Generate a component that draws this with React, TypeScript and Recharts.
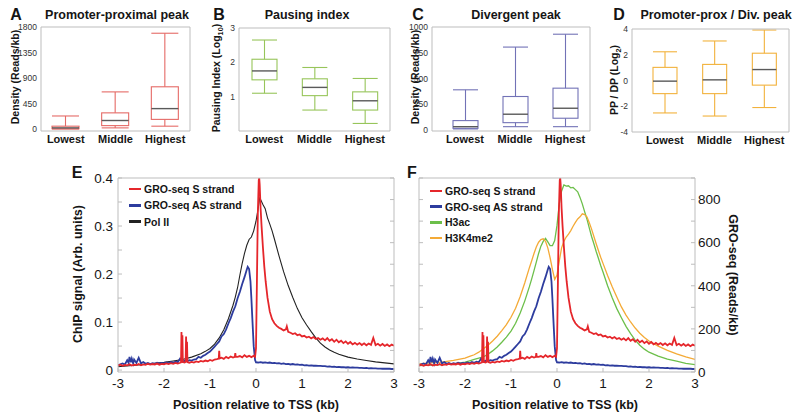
import React from 'react';
import { BarChart, Bar, XAxis, YAxis, LineChart, Line } from 'recharts';

// ---------- Top row: box plots ----------
const GROUPS = ['Lowest', 'Middle', 'Highest'];
// each box: [lower whisker, Q1, median, Q3, upper whisker]
const PROX_PEAK_BOXES = [
  [0, 5, 20, 50, 230],
  [20, 60, 150, 285, 655],
  [50, 170, 360, 745, 1690],
];
const PAUSING_BOXES = [
  [1.1, 1.49, 1.75, 2.09, 2.65],
  [0.61, 1.03, 1.27, 1.52, 1.85],
  [0.22, 0.61, 0.88, 1.14, 1.53],
];
const DIVERGENT_BOXES = [
  [10, 16, 32, 91, 390],
  [32, 71, 153, 325, 805],
  [32, 114, 211, 406, 930],
];
const RATIO_BOXES = [
  [-2.52, -1.02, -0.05, 1.02, 2.23],
  [-2.76, -1.02, 0.05, 1.25, 3.07],
  [-2.1, -0.36, 0.85, 2.12, 3.92],
];
const PROX_TICKS = [0, 450, 900, 1350, 1800];
const PAUSING_TICKS = [1, 2, 3];
const DIVERGENT_TICKS = [0, 250, 500, 750, 1000];
const RATIO_TICKS = [-4, -2, 0, 2, 4];

// ---------- Bottom row: profiles around TSS ----------
const KB_TICKS = [-3, -2, -1, 0, 1, 2, 3];
const CHIP_TICKS = [0, 0.05, 0.1, 0.15, 0.2, 0.25, 0.3, 0.35, 0.4];
const READS_TICKS = [0, 100, 200, 300, 400, 500, 600, 700, 800, 900];
const HISTONE_TICKS = [0, 0.05, 0.1, 0.15, 0.2, 0.25, 0.3, 0.35, 0.4, 0.45];

// GRO-seq sense strand (reads/kb)
const S_KB = [-3, -2.95, -2.9, -2.85, -2.8, -2.75, -2.7, -2.65, -2.6, -2.55,
  -2.5, -2.45, -2.4, -2.35, -2.3, -2.25, -2.2, -2.15, -2.1, -2.05,
  -2, -1.95, -1.9, -1.85, -1.8, -1.75, -1.7, -1.65, -1.63, -1.62,
  -1.61, -1.6, -1.59, -1.55, -1.53, -1.52, -1.51, -1.5, -1.49, -1.45,
  -1.4, -1.35, -1.3, -1.25, -1.2, -1.15, -1.1, -1.05, -1, -0.95,
  -0.9, -0.85, -0.81, -0.8, -0.79, -0.75, -0.7, -0.65, -0.6, -0.55,
  -0.5, -0.46, -0.45, -0.44, -0.4, -0.35, -0.3, -0.25, -0.2, -0.15,
  -0.1, -0.05, -0.02, 0, 0.02, 0.04, 0.06, 0.07, 0.08, 0.1,
  0.12, 0.15, 0.18, 0.21, 0.25, 0.3, 0.35, 0.4, 0.45, 0.5,
  0.55, 0.6, 0.65, 0.67, 0.7, 0.75, 0.8, 0.85, 0.9, 0.95,
  1, 1.05, 1.1, 1.15, 1.2, 1.25, 1.3, 1.35, 1.4, 1.45,
  1.5, 1.55, 1.6, 1.65, 1.7, 1.75, 1.8, 1.85, 1.9, 1.95,
  2, 2.05, 2.1, 2.15, 2.2, 2.25, 2.3, 2.35, 2.4, 2.45,
  2.5, 2.55, 2.6, 2.65, 2.7, 2.75, 2.8, 2.85, 2.9, 2.95,
  3];
const S_READS = [30, 34, 29, 33, 31, 36, 30, 34, 32, 37,
  31, 35, 33, 38, 34, 37, 35, 39, 34, 38,
  36, 40, 37, 41, 38, 42, 39, 43, 45, 185,
  52, 170, 46, 44, 47, 165, 50, 140, 46, 43,
  47, 44, 49, 46, 51, 48, 53, 50, 56, 52,
  58, 60, 62, 98, 63, 66, 61, 70, 64, 72,
  67, 70, 88, 71, 70, 74, 68, 78, 70, 75,
  69, 75, 70, 110, 420, 740, 890, 900, 870, 760,
  680, 580, 490, 420, 345, 280, 245, 226, 214, 205,
  200, 193, 198, 212, 186, 182, 176, 180, 171, 174,
  165, 168, 160, 164, 156, 162, 153, 158, 150, 156,
  147, 157, 145, 152, 140, 150, 138, 145, 134, 142,
  131, 139, 128, 135, 127, 134, 125, 133, 124, 132,
  126, 158, 125, 131, 122, 130, 121, 128, 120, 127,
  122];

// GRO-seq antisense strand (reads/kb)
const AS_KB = [-3, -2.95, -2.9, -2.85, -2.8, -2.77, -2.75, -2.72, -2.7, -2.67,
  -2.65, -2.6, -2.55, -2.5, -2.45, -2.4, -2.35, -2.3, -2.25, -2.2,
  -2.15, -2.1, -2.05, -2, -1.95, -1.9, -1.85, -1.8, -1.75, -1.7,
  -1.65, -1.6, -1.55, -1.5, -1.45, -1.4, -1.35, -1.3, -1.25, -1.2,
  -1.15, -1.1, -1.05, -1, -0.95, -0.9, -0.85, -0.8, -0.75, -0.7,
  -0.65, -0.6, -0.55, -0.5, -0.45, -0.4, -0.35, -0.3, -0.25, -0.2,
  -0.18, -0.15, -0.12, -0.1, -0.08, -0.05, -0.02, 0, 0.05, 0.1,
  0.15, 0.2, 0.25, 0.3, 0.35, 0.4, 0.45, 0.5, 0.55, 0.6,
  0.65, 0.7, 0.75, 0.8, 0.85, 0.9, 0.95, 1, 1.05, 1.1,
  1.15, 1.2, 1.25, 1.3, 1.35, 1.4, 1.45, 1.5, 1.55, 1.6,
  1.65, 1.7, 1.75, 1.8, 1.85, 1.9, 1.95, 2, 2.05, 2.1,
  2.15, 2.2, 2.25, 2.3, 2.35, 2.4, 2.45, 2.5, 2.55, 2.6,
  2.65, 2.7, 2.75, 2.8, 2.85, 2.9, 2.95, 3];
const AS_READS = [32, 36, 40, 35, 55, 42, 70, 45, 62, 40,
  58, 42, 66, 40, 46, 38, 42, 37, 41, 38,
  43, 39, 42, 40, 44, 41, 47, 43, 48, 45,
  62, 48, 52, 50, 55, 53, 58, 60, 70, 66,
  75, 80, 88, 95, 106, 118, 130, 142, 165, 176,
  198, 225, 250, 280, 305, 342, 372, 408, 440, 475,
  488, 478, 420, 340, 250, 120, 55, 45, 44, 46,
  43, 45, 42, 44, 41, 42, 40, 41, 38, 40,
  37, 38, 35, 37, 34, 35, 33, 34, 31, 32,
  30, 31, 29, 30, 28, 28, 27, 27, 25, 26,
  24, 25, 23, 24, 22, 23, 21, 22, 20, 21,
  20, 20, 19, 19, 18, 19, 17, 18, 17, 17,
  16, 16, 15, 16, 15, 15, 14, 14];

// Pol II ChIP signal (arb. units)
const POL_KB = [-3, -2.5, -2, -1.8, -1.6, -1.4, -1.2, -1.1, -1, -0.9,
  -0.8, -0.7, -0.6, -0.5, -0.45, -0.4, -0.35, -0.3, -0.25, -0.2,
  -0.15, -0.1, -0.05, 0, 0.05, 0.08, 0.1, 0.15, 0.2, 0.25,
  0.3, 0.35, 0.4, 0.5, 0.6, 0.7, 0.8, 0.9, 1, 1.1,
  1.2, 1.3, 1.4, 1.5, 1.6, 1.7, 1.8, 2, 2.2, 2.4,
  2.6, 2.8, 3];
const POL_SIGNAL = [0.007, 0.011, 0.016, 0.019, 0.022, 0.027, 0.034, 0.039, 0.045, 0.054,
  0.067, 0.084, 0.107, 0.135, 0.152, 0.172, 0.198, 0.222, 0.243, 0.26,
  0.272, 0.277, 0.29, 0.31, 0.338, 0.358, 0.355, 0.345, 0.336, 0.317,
  0.304, 0.29, 0.273, 0.238, 0.205, 0.176, 0.151, 0.128, 0.109, 0.094,
  0.08, 0.067, 0.056, 0.048, 0.042, 0.037, 0.033, 0.027, 0.023, 0.02,
  0.017, 0.015, 0.013];

// Histone marks (arb. units)
const HISTONE_KB = [-3, -2.75, -2.5, -2.25, -2, -1.9, -1.8, -1.7, -1.6, -1.5,
  -1.4, -1.3, -1.2, -1.1, -1, -0.9, -0.8, -0.7, -0.6, -0.55,
  -0.5, -0.45, -0.4, -0.35, -0.3, -0.25, -0.2, -0.15, -0.1, -0.05,
  0, 0.05, 0.1, 0.15, 0.2, 0.25, 0.3, 0.35, 0.4, 0.45,
  0.5, 0.55, 0.6, 0.65, 0.7, 0.75, 0.8, 0.85, 0.9, 0.95,
  1, 1.1, 1.2, 1.3, 1.4, 1.5, 1.6, 1.7, 1.8, 1.9,
  2, 2.2, 2.4, 2.6, 2.8, 3];
const H3AC = [0.015, 0.016, 0.017, 0.019, 0.023, 0.026, 0.029, 0.032, 0.035, 0.041,
  0.049, 0.058, 0.069, 0.081, 0.095, 0.113, 0.137, 0.165, 0.198, 0.216,
  0.235, 0.255, 0.275, 0.292, 0.303, 0.31, 0.302, 0.293, 0.293, 0.305,
  0.34, 0.39, 0.42, 0.434, 0.431, 0.432, 0.427, 0.428, 0.423, 0.418,
  0.405, 0.39, 0.372, 0.355, 0.335, 0.315, 0.298, 0.28, 0.264, 0.247,
  0.232, 0.2, 0.172, 0.147, 0.126, 0.106, 0.089, 0.074, 0.062, 0.053,
  0.046, 0.037, 0.03, 0.025, 0.02, 0.017];
const H3K4ME2 = [0.019, 0.021, 0.023, 0.027, 0.032, 0.036, 0.04, 0.046, 0.054, 0.062,
  0.072, 0.083, 0.096, 0.11, 0.127, 0.148, 0.175, 0.207, 0.242, 0.258,
  0.275, 0.29, 0.301, 0.307, 0.309, 0.303, 0.288, 0.265, 0.238, 0.215,
  0.225, 0.258, 0.288, 0.303, 0.313, 0.32, 0.328, 0.338, 0.347, 0.355,
  0.36, 0.367, 0.365, 0.36, 0.347, 0.332, 0.315, 0.298, 0.282, 0.266,
  0.252, 0.224, 0.198, 0.174, 0.151, 0.132, 0.116, 0.102, 0.09, 0.08,
  0.072, 0.06, 0.05, 0.042, 0.035, 0.029];

const E_LEGEND = ['GRO-seq S strand', 'GRO-seq AS strand', 'Pol II'];
const F_LEGEND = ['GRO-seq S strand', 'GRO-seq AS strand', 'H3ac', 'H3K4me2'];

// ---------- styles ----------
const FONT = '"Liberation Sans", Arial, Helvetica, sans-serif';
const FRAME = '#bdbdbd';
const INK = '#151515';
const C_RED = '#e5262b';
const C_BLUE = '#2d3c9e';
const C_BLACK = '#222222';
const C_GREEN = '#6cbf4a';
const C_ORANGE = '#f4aa36';

const series = (xs: number[], ys: number[]) => xs.map((x, i) => ({ kb: x, v: ys[i] }));

function BoxShape(props: any) {
  const { x, y, width, height, payload, color } = props;
  const [lo, q1, med, q3, hi] = payload.stats;
  const top = Math.min(y, y + height);
  const bot = Math.max(y, y + height);
  const py = (v: number) => bot - ((v - lo) / (hi - lo)) * (bot - top);
  const cx = x + width / 2;
  const sw = 1.1;
  return (
    <g>
      <line x1={cx} x2={cx} y1={py(hi)} y2={py(q3)} stroke={color} strokeWidth={sw} />
      <line x1={cx} x2={cx} y1={py(q1)} y2={py(lo)} stroke={color} strokeWidth={sw} />
      <line x1={x} x2={x + width} y1={py(hi)} y2={py(hi)} stroke={color} strokeWidth={sw} />
      <line x1={x} x2={x + width} y1={py(lo)} y2={py(lo)} stroke={color} strokeWidth={sw} />
      <rect x={x} y={py(q3)} width={width} height={Math.max(py(q1) - py(q3), 0.5)} fill="none" stroke={color} strokeWidth={sw} />
      <line x1={x} x2={x + width} y1={py(med)} y2={py(med)} stroke="#5a5a5a" strokeWidth={1.4} />
    </g>
  );
}

function BoxPanel(p: any) {
  const W = 200, H = 150;
  const rows = GROUPS.map((g, i) => ({ group: g, stats: p.boxes[i], range: [p.boxes[i][0], p.boxes[i][4]] }));
  return (
    <div style={{ position: 'absolute', left: p.left, top: 0 }}>
      <BarChart width={W} height={H} data={rows}
        margin={{ top: p.plotTop - 1, right: W - p.plotRight - 1, bottom: 0, left: 0 }}>
        <XAxis xAxisId="g" dataKey="group" height={H - p.plotBottom} tickLine={false} stroke={FRAME}
          tickSize={0} tickMargin={4} padding={p.pad} interval={0}
          tick={{ fill: INK, fontSize: 11, fontWeight: 700 }} />
        <XAxis xAxisId="top" orientation="top" type="number" domain={[0, 1]} ticks={[0, 1]}
          allowDataOverflow tick={false} tickLine={false} height={1} stroke={FRAME} />
        <YAxis yAxisId="v" type="number" domain={p.domain} ticks={p.ticks} allowDataOverflow
          width={p.yWidth} stroke={FRAME} tickLine={false} tickSize={0} tickMargin={4} interval={0}
          tick={{ fill: '#333', fontSize: 8.5 }} />
        <YAxis yAxisId="frame" orientation="right" type="number" domain={[0, 1]} ticks={[0, 1]}
          allowDataOverflow tick={false} tickLine={false} width={1} stroke={FRAME} />
        <Bar xAxisId="g" yAxisId="v" dataKey="range" barSize={p.barSize} isAnimationActive={false}
          shape={(sp: any) => <BoxShape {...sp} color={p.color} />} />
      </BarChart>
    </div>
  );
}

function T(p: any) {
  return (
    <div style={{
      position: 'absolute', left: p.x, top: p.y,
      transform: `translate(-50%, -50%) rotate(${p.rotate || 0}deg)`,
      fontSize: p.size, fontWeight: p.bold === false ? 400 : 700,
      whiteSpace: 'nowrap', lineHeight: 1, color: INK,
    }}>{p.children}</div>
  );
}

function LegendRows(p: any) {
  return (
    <>
      {p.names.map((n: string, i: number) => (
        <div key={n} style={{ position: 'absolute', left: p.x, top: p.y + i * p.gap - 7, height: 14, display: 'flex', alignItems: 'center', whiteSpace: 'nowrap' }}>
          <div style={{ width: 12, height: 2.5, background: p.colors[i], marginRight: 3 }} />
          <span style={{ fontSize: 10.5, fontWeight: 700, color: INK }}>{n}</span>
        </div>
      ))}
    </>
  );
}

const chipLabel = (v: number) => (Math.round(v * 100) % 10 === 0 ? String(Number(v.toFixed(1))) : '');
const readsLabel = (v: number) => (v % 200 === 0 && v <= 800 ? String(v) : '');
const blank = () => '';

export default function App() {
  const tickText = { fill: INK, fontSize: 13.5 };
  return (
    <div style={{ position: 'absolute', left: 0, top: 0, width: 800, height: 415, background: '#fff', fontFamily: FONT, color: INK, overflow: 'hidden' }}>
      <BoxPanel left={0} boxes={PROX_PEAK_BOXES} color="#e56a66" domain={[-35, 1800]} ticks={PROX_TICKS}
        plotTop={27} plotBottom={131} plotRight={190} yWidth={41} pad={{ left: 0, right: 0 }} barSize={27} />
      <BoxPanel left={200} boxes={PAUSING_BOXES} color="#97c55a" domain={[0, 3]} ticks={PAUSING_TICKS}
        plotTop={28} plotBottom={131} plotRight={190} yWidth={39} pad={{ left: 0, right: 0 }} barSize={25} />
      <BoxPanel left={400} boxes={DIVERGENT_BOXES} color="#7272b6" domain={[-10, 1000]} ticks={DIVERGENT_TICKS}
        plotTop={27} plotBottom={131} plotRight={190} yWidth={32} pad={{ left: 8, right: 0 }} barSize={25} />
      <BoxPanel left={600} boxes={RATIO_BOXES} color="#f2b23c" domain={[-4, 4]} ticks={RATIO_TICKS}
        plotTop={29} plotBottom={132} plotRight={189} yWidth={32} pad={{ left: 8, right: 0 }} barSize={24} />

      {/* Panel E */}
      <div style={{ position: 'absolute', left: 0, top: 150 }}>
        <LineChart width={400} height={265} margin={{ top: 27, right: 0, bottom: 18, left: 0 }}>
          <XAxis xAxisId="kb" dataKey="kb" type="number" domain={[-3, 3]} ticks={KB_TICKS} allowDataOverflow
            height={25} stroke={FRAME} tickSize={-4} tickMargin={10} interval={0} tick={tickText} />
          <XAxis xAxisId="top" orientation="top" type="number" domain={[-3, 3]} ticks={KB_TICKS} allowDataOverflow
            height={1} stroke={FRAME} tickSize={-4} tickFormatter={blank} interval={0} />
          <YAxis yAxisId="chip" type="number" domain={[-0.004, 0.4]} ticks={CHIP_TICKS} allowDataOverflow width={118}
            stroke={FRAME} tickSize={-4} tickMargin={9} interval={0} tick={tickText} tickFormatter={chipLabel} />
          <YAxis yAxisId="reads" orientation="right" type="number" domain={[0, 900]} ticks={READS_TICKS} allowDataOverflow
            width={6} stroke={FRAME} tickSize={-4} interval={0} tickFormatter={blank} />
          <Line xAxisId="kb" yAxisId="chip" data={series(POL_KB, POL_SIGNAL)} dataKey="v" stroke={C_BLACK}
            strokeWidth={1.1} dot={false} activeDot={false} isAnimationActive={false} />
          <Line xAxisId="kb" yAxisId="reads" data={series(AS_KB, AS_READS)} dataKey="v" stroke={C_BLUE}
            strokeWidth={1.8} dot={false} activeDot={false} isAnimationActive={false} />
          <Line xAxisId="kb" yAxisId="reads" data={series(S_KB, S_READS)} dataKey="v" stroke={C_RED}
            strokeWidth={1.8} dot={false} activeDot={false} isAnimationActive={false} />
        </LineChart>
      </div>

      {/* Panel F */}
      <div style={{ position: 'absolute', left: 400, top: 150 }}>
        <LineChart width={400} height={265} margin={{ top: 27, right: 0, bottom: 18, left: 0 }}>
          <XAxis xAxisId="kb" dataKey="kb" type="number" domain={[-3, 3]} ticks={KB_TICKS} allowDataOverflow
            height={25} stroke={FRAME} tickSize={-4} tickMargin={10} interval={0} tick={tickText} />
          <XAxis xAxisId="top" orientation="top" type="number" domain={[-3, 3]} ticks={KB_TICKS} allowDataOverflow
            height={1} stroke={FRAME} tickSize={-4} tickFormatter={blank} interval={0} />
          <YAxis yAxisId="hist" type="number" domain={[0, 0.45]} ticks={HISTONE_TICKS} allowDataOverflow width={19}
            stroke={FRAME} tickSize={-4} interval={0} tickFormatter={blank} />
          <YAxis yAxisId="reads" orientation="right" type="number" domain={[0, 900]} ticks={READS_TICKS} allowDataOverflow
            width={105} stroke={FRAME} tickSize={-4} tickMargin={7} interval={0} tick={tickText} tickFormatter={readsLabel} />
          <Line xAxisId="kb" yAxisId="hist" data={series(HISTONE_KB, H3AC)} dataKey="v" stroke={C_GREEN}
            strokeWidth={1.3} dot={false} activeDot={false} isAnimationActive={false} />
          <Line xAxisId="kb" yAxisId="hist" data={series(HISTONE_KB, H3K4ME2)} dataKey="v" stroke={C_ORANGE}
            strokeWidth={1.3} dot={false} activeDot={false} isAnimationActive={false} />
          <Line xAxisId="kb" yAxisId="reads" data={series(AS_KB, AS_READS)} dataKey="v" stroke={C_BLUE}
            strokeWidth={1.8} dot={false} activeDot={false} isAnimationActive={false} />
          <Line xAxisId="kb" yAxisId="reads" data={series(S_KB, S_READS)} dataKey="v" stroke={C_RED}
            strokeWidth={1.8} dot={false} activeDot={false} isAnimationActive={false} />
        </LineChart>
      </div>

      {/* panel letters */}
      <T x={16} y={15} size={16}>A</T>
      <T x={219} y={15} size={16}>B</T>
      <T x={418} y={15} size={16}>C</T>
      <T x={619} y={15} size={16}>D</T>
      <T x={77} y={173} size={16}>E</T>
      <T x={412} y={173} size={16}>F</T>

      {/* titles */}
      <T x={117} y={15} size={12.5}>Promoter-proximal peak</T>
      <T x={307} y={15} size={12.5}>Pausing index</T>
      <T x={516} y={15} size={12.5}>Divergent peak</T>
      <T x={716} y={15} size={12.5}>Promoter-prox / Div. peak</T>

      {/* y labels top row */}
      <T x={14.5} y={77} size={10.5} rotate={-90}>Density (Reads/kb)</T>
      <T x={217.5} y={77.5} size={10.5} rotate={-90}>Pausing Index (Log<span style={{ fontSize: '0.7em', verticalAlign: 'sub' }}>10</span>)</T>
      <T x={414.5} y={77} size={10.5} rotate={-90}>Density (Reads/kb)</T>
      <T x={616} y={79.5} size={10.5} rotate={-90}>PP / DP (Log<span style={{ fontSize: '0.7em', verticalAlign: 'sub' }}>2</span>)</T>

      {/* bottom row axis labels */}
      <T x={78} y={274} size={12.5} rotate={-90}>ChIP signal (Arb. units)</T>
      <T x={256} y={405} size={12.5}>Position relative to TSS (kb)</T>
      <T x={555} y={405} size={12.5}>Position relative to TSS (kb)</T>
      <T x={733} y={275} size={12.5} rotate={90}>GRO-seq (Reads/kb)</T>

      <LegendRows names={E_LEGEND} colors={[C_RED, C_BLUE, C_BLACK]} x={129} y={189} gap={16.3} />
      <LegendRows names={F_LEGEND} colors={[C_RED, C_BLUE, C_GREEN, C_ORANGE]} x={430} y={191} gap={15.7} />
    </div>
  );
}
